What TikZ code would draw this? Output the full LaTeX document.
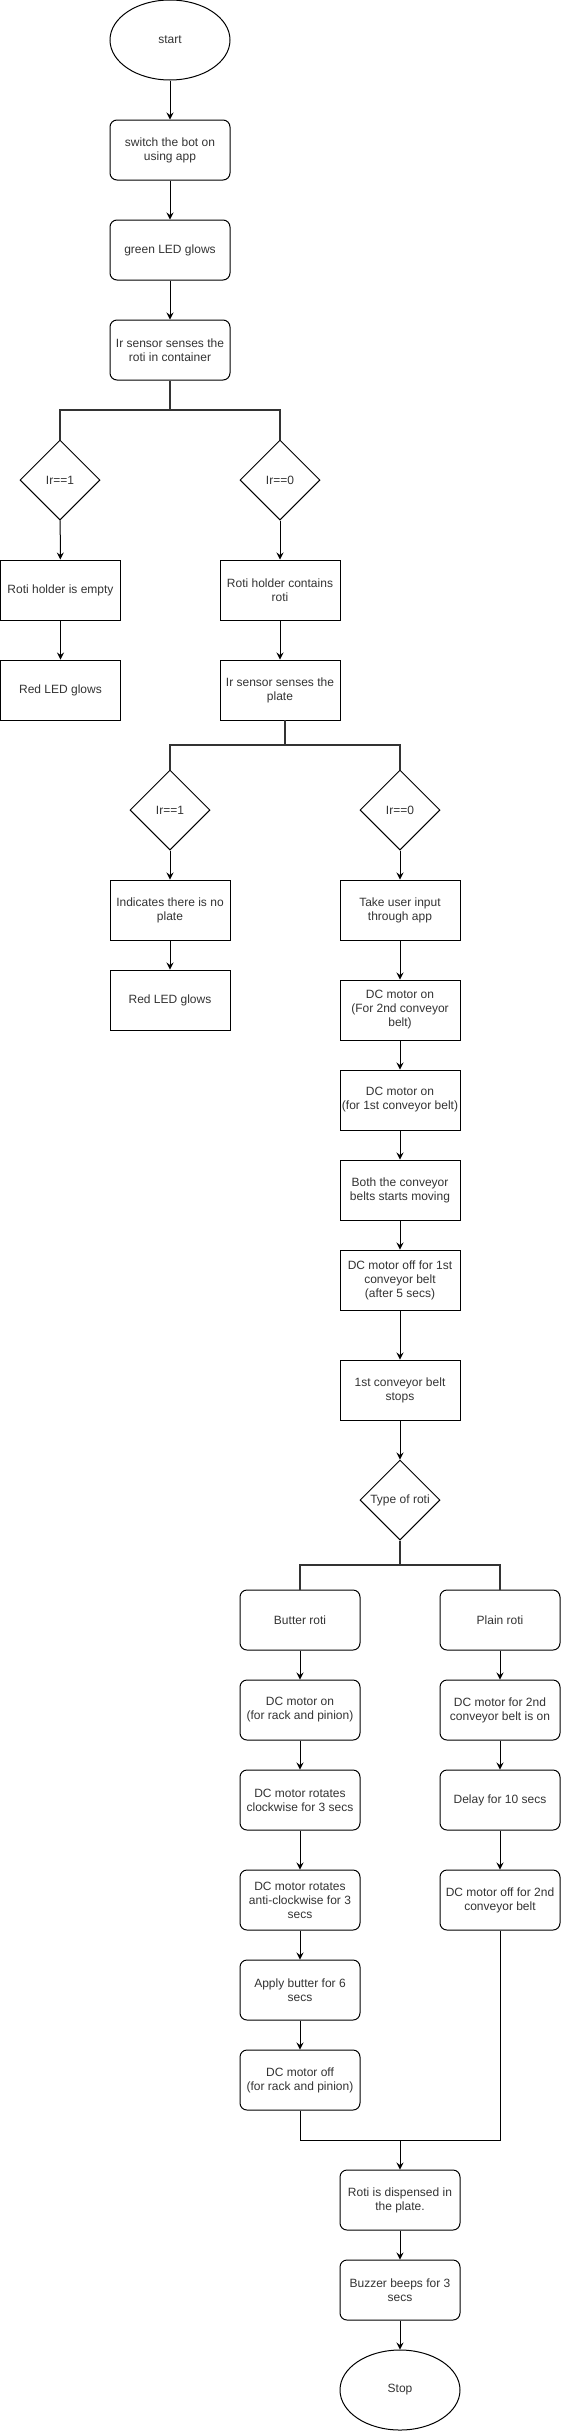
\documentclass[tikz,border=0pt]{standalone}
\usepackage{fontspec}
\setmainfont{Liberation Sans}
\usetikzlibrary{shapes.geometric,arrows.meta}
\begin{document}
\begin{tikzpicture}[x=1pt,y=-1pt,
  every node/.style={font=\fontsize{12}{14}\selectfont, text=black!80, align=center, inner sep=0pt},
  box/.style={draw=black, line width=1pt, minimum width=120pt, minimum height=60pt},
  rbox/.style={box, rounded corners=7pt},
  term/.style={draw=black, ellipse, line width=1pt, minimum width=120pt, minimum height=80pt},
  dec/.style={draw=black, diamond, line width=1pt, minimum width=80pt, minimum height=80pt},
  arr/.style={draw=black, line width=1pt, -{Stealth[length=7pt,width=7pt,inset=2.5pt]}},
  bus/.style={draw=black!80, line width=2pt},
  plainline/.style={draw=black, line width=1pt}
]
\useasboundingbox (0,0) rectangle (561,2431);
% top part
\node[term] (start) at (170,40) {start};
\node[rbox] (sw) at (170,150) {switch the bot on\\using app};
\node[rbox] (green) at (170,250) {green LED glows};
\node[rbox] (irc) at (170,350) {Ir sensor senses the\\roti in container};
\node[dec] (d1) at (60,480) {Ir==1};
\node[dec] (d2) at (280,480) {Ir==0};
\node[box] (empty) at (60.5,590) {Roti holder is empty};
\node[box] (red1) at (60.5,690) {Red LED glows};
\node[box] (contains) at (280,590) {Roti holder contains\\roti};
\node[box] (plate) at (280,690) {Ir sensor senses the\\plate};
\node[dec] (d3) at (170,810) {Ir==1};
\node[dec] (d4) at (400,810) {Ir==0};
\node[box] (noplate) at (170,910) {Indicates there is no\\plate};
\node[box] (red2) at (170,1000) {Red LED glows};
\node[box] (input) at (400,910) {Take user input\\through app};
\node[box] (dc2) at (400,1010) {DC motor on\\(For 2nd conveyor\\belt)};
\node[box] (dc1) at (400,1100) {DC motor on\\(for 1st conveyor belt)};
\node[box] (both) at (400,1190) {Both the conveyor\\belts starts moving};
\node[box] (off1) at (400,1280) {DC motor off for 1st\\conveyor belt\\(after 5 secs)};
\node[box] (stops) at (400,1390) {1st conveyor belt\\stops};
\node[dec] (type) at (400,1500) {Type of roti};
\node[rbox] (butter) at (300,1620) {Butter roti};
\node[rbox] (plain) at (500,1620) {Plain roti};
\node[rbox] (rk1) at (300,1710) {DC motor on\\(for rack and pinion)};
\node[rbox] (rk2) at (300,1800) {DC motor rotates\\clockwise for 3 secs};
\node[rbox] (rk3) at (300,1900) {DC motor rotates\\anti-clockwise for 3\\secs};
\node[rbox] (rk4) at (300,1990) {Apply butter for 6\\secs};
\node[rbox] (rk5) at (300,2080) {DC motor off\\(for rack and pinion)};
\node[rbox] (p1) at (500,1710) {DC motor for 2nd\\conveyor belt is on};
\node[rbox] (p2) at (500,1800) {Delay for 10 secs};
\node[rbox] (p3) at (500,1900) {DC motor off for 2nd\\conveyor belt};
\node[rbox] (disp) at (400,2200) {Roti is dispensed in\\the plate.};
\node[rbox] (buzz) at (400,2290) {Buzzer beeps for 3\\secs};
\node[term] (stop) at (400,2390) {Stop};
% junctions
\coordinate (b1) at (170,410);
\coordinate (b2t) at (285,720);
\coordinate (b2) at (285,745);
\coordinate (b3) at (400,1565);
\coordinate (m) at (400,2140);
% arrows
\draw[arr] (start) -- (sw);
\draw[arr] (sw) -- (green);
\draw[arr] (green) -- (irc);
\draw[bus] (irc.south) -- (b1) -| (d1.north);
\draw[bus] (b1) -| (d2.north);
\draw[arr] (d1) -- (empty);
\draw[arr] (empty) -- (red1);
\draw[arr] (d2) -- (contains);
\draw[arr] (contains) -- (plate);
\draw[bus] (b2t) -- (b2) -| (d3.north);
\draw[bus] (b2) -| (d4.north);
\draw[arr] (d3) -- (noplate);
\draw[arr] (noplate) -- (red2);
\draw[arr] (d4) -- (input);
\draw[arr] (input) -- (dc2);
\draw[arr] (dc2) -- (dc1);
\draw[arr] (dc1) -- (both);
\draw[arr] (both) -- (off1);
\draw[arr] (off1) -- (stops);
\draw[arr] (stops) -- (type);
\draw[bus] (type.south) -- (b3) -| (butter.north);
\draw[bus] (b3) -| (plain.north);
\draw[arr] (butter) -- (rk1);
\draw[arr] (rk1) -- (rk2);
\draw[arr] (rk2) -- (rk3);
\draw[arr] (rk3) -- (rk4);
\draw[arr] (rk4) -- (rk5);
\draw[arr] (plain) -- (p1);
\draw[arr] (p1) -- (p2);
\draw[arr] (p2) -- (p3);
\draw[plainline] (rk5.south) |- (m);
\draw[plainline] (p3.south) |- (m);
\draw[arr] (m) -- (disp);
\draw[arr] (disp) -- (buzz);
\draw[arr] (buzz) -- (stop);
\end{tikzpicture}
\end{document}
